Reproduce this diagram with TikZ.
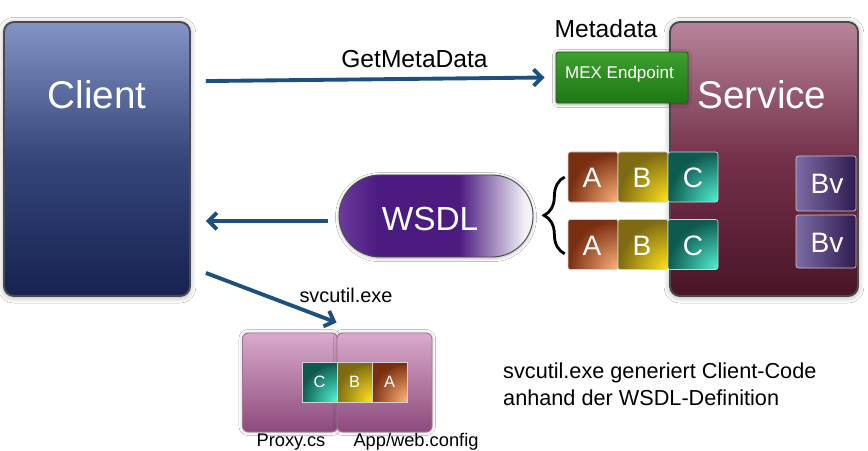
\documentclass[tikz,border=0pt]{standalone}
\usepackage{fontspec}
\setmainfont{Liberation Sans}
\usetikzlibrary{arrows.meta,shadows.blur,decorations.pathreplacing,calc}
\definecolor{arrowblue}{HTML}{1B5080}
\definecolor{clientT}{HTML}{8293C5}
\definecolor{clientM}{HTML}{34467A}
\definecolor{clientB}{HTML}{172250}
\definecolor{servT}{HTML}{B8849A}
\definecolor{servM}{HTML}{74304A}
\definecolor{servB}{HTML}{4A1528}
\definecolor{boxborder}{HTML}{4A4A4A}
\definecolor{mexT}{HTML}{3E9E2E}
\definecolor{mexB}{HTML}{1E7814}
\definecolor{mexborder}{HTML}{2C5A22}
\definecolor{wsdlA}{HTML}{6A3A9C}
\definecolor{wsdlB}{HTML}{4C1B80}
\definecolor{wsdlC}{HTML}{F4F2F8}
\definecolor{Abase}{HTML}{7A2E10}
\definecolor{Ahl}{HTML}{FFB27A}
\definecolor{Bbase}{HTML}{7E6A12}
\definecolor{Bhl}{HTML}{FFE41C}
\definecolor{Cbase}{HTML}{0D5A4E}
\definecolor{Chl}{HTML}{52F2D4}
\definecolor{bvL}{HTML}{7C6CA4}
\definecolor{bvR}{HTML}{2E1B50}
\definecolor{pinkT}{HTML}{DAAACC}
\definecolor{pinkB}{HTML}{8C4A7C}
\definecolor{pinkborder}{HTML}{A27492}
\pgfdeclarehorizontalshading{wsdlshade}{100bp}{color(0bp)=(wsdlA); color(25bp)=(wsdlA); color(35bp)=(wsdlB); color(56bp)=(wsdlB); color(73bp)=(wsdlC); color(100bp)=(wsdlC)}
\newcommand\myfs[1]{\fontsize{#1}{#1}\selectfont}
\begin{document}
\begin{tikzpicture}[x=0.03cm,y=-0.03cm,
  bigbox/.style={draw=boxborder, line width=1.6pt, rounded corners=0.3cm,
    blur shadow={shadow blur steps=6, shadow xshift=0pt, shadow yshift=-1pt, shadow opacity=35, shadow blur radius=5pt}},
  txt/.style={inner sep=0pt, anchor=base},
  wtxt/.style={txt, text=white},
  arr/.style={draw=arrowblue, line width=3.3pt, -{Straight Barb[length=7pt,width=14pt]}},
  abox/.style={draw=gray!35, line width=0.5pt, rounded corners=2pt, minimum width=1.5cm, minimum height=1.5cm,
    fill=#1base, path picture={\shade[inner color=#1hl, outer color=#1base] (path picture bounding box.south east) circle (1.5cm);}},
  sbox/.style={draw=gray!35, line width=0.4pt, minimum width=1.05cm, minimum height=1.2cm,
    fill=#1base, path picture={\shade[inner color=#1hl, outer color=#1base] (path picture bounding box.south east) circle (1.1cm);}},
  bvbox/.style={draw=gray!45, line width=0.6pt, rounded corners=2pt, minimum width=1.8cm, left color=bvL, right color=bvR},
  pinkbox/.style={draw=pinkborder, line width=0.8pt, rounded corners=5pt, minimum width=2.85cm, minimum height=2.97cm,
    top color=pinkT, bottom color=pinkB,
    blur shadow={shadow blur steps=5, shadow xshift=0pt, shadow yshift=0pt, shadow opacity=25, shadow blur radius=3pt}}
]
\useasboundingbox (0,0) rectangle (868,451);
\fill[white] (0,0) rectangle (868,451);

% Client and Service
\node[bigbox, minimum width=5.58cm, minimum height=8.22cm, top color=clientT, bottom color=clientB, middle color=clientM] (client) at (97,159) {};
\node[wtxt] (clientlbl) at (97,108) {\myfs{33}Client};
\node[bigbox, minimum width=5.64cm, minimum height=8.22cm, top color=servT, bottom color=servB, middle color=servM] (service) at (764,159) {};
\node[wtxt] (servicelbl) at (762,108) {\myfs{33}Service};

% MEX endpoint
\node[txt] (metalbl) at (606,38) {\myfs{21}Metadata};
\node[draw=mexborder, line width=0.8pt, rounded corners=2pt, minimum width=3.96cm, minimum height=1.53cm,
  top color=mexT, bottom color=mexB,
  blur shadow={shadow blur steps=5, shadow xshift=0pt, shadow yshift=-1pt, shadow opacity=35, shadow blur radius=3pt}] (mex) at (622,77.5) {};
\node[wtxt] (mexlbl) at (619.5,79) {\myfs{14.5}MEX Endpoint};

% A B C rows
\node[abox=A] (a1) at (593,177) {};
\node[abox=B] (b1) at (643,177) {};
\node[abox=C] (c1) at (693,177) {};
\node[abox=A] (a2) at (593,244.5) {};
\node[abox=B] (b2) at (643,244.5) {};
\node[abox=C] (c2) at (693,244.5) {};
\node[wtxt] (a1l) at (592,187) {\myfs{24}A};
\node[wtxt] (b1l) at (642,187) {\myfs{24}B};
\node[wtxt] (c1l) at (693,187) {\myfs{24}C};
\node[wtxt] (a2l) at (592,255) {\myfs{24}A};
\node[wtxt] (b2l) at (642,255) {\myfs{24}B};
\node[wtxt] (c2l) at (693,255) {\myfs{24}C};

% Bv boxes
\node[bvbox, minimum height=1.65cm] (bv1) at (826,183.5) {};
\node[bvbox, minimum height=1.59cm] (bv2) at (826,241.5) {};
\node[wtxt] (bv1l) at (827,193) {\myfs{24}Bv};
\node[wtxt] (bv2l) at (827,252) {\myfs{24}Bv};

% brace
\draw[line width=2.4pt, decorate, decoration={brace, amplitude=0.62cm}]
  ($(a2.south west)+(-3,-16)$) -- ($(a1.west)+(-3,0)$);

% WSDL
\node[draw=gray!60!black, line width=0.8pt, rounded corners=1.23cm, minimum width=5.82cm, minimum height=2.46cm,
  shading=wsdlshade,
  blur shadow={shadow blur steps=5, shadow xshift=0pt, shadow yshift=-1pt, shadow opacity=30, shadow blur radius=3pt}] (wsdl) at (436,216) {};
\node[wtxt] (wsdllbl) at (430,230) {\myfs{28.5}WSDL};

% arrows
\node[txt] (getlbl) at (414.5,68) {\myfs{21}GetMetaData};
\draw[arr] ($(client.north east)+(15,60)$) -- ($(mex.west)+(-11,0)$);
\coordinate (w1) at ($(wsdl.west)+(-11,5)$);
\draw[arr, shorten >=12.75pt] (w1) -- (w1 -| client.east);

% Proxy and config
\node[pinkbox] (proxy) at (290,382.5) {};
\node[pinkbox] (app) at (384.5,382.5) {};
\node[sbox=C] (sc) at (319.5,382) {};
\node[sbox=B] (sb) at (354.5,382) {};
\node[sbox=A] (sa) at (389.5,382) {};
\node[wtxt] (scl) at (319.5,387) {\myfs{14}C};
\node[wtxt] (sbl) at (354.5,387) {\myfs{14}B};
\node[wtxt] (sal) at (389.5,387) {\myfs{14}A};
\node[txt] (proxylbl) at (291,446) {\myfs{15.6}Proxy.cs};
\node[txt] (applbl) at (416,446) {\myfs{15.6}App/web.config};

\node[txt] (svclbl) at (346,302) {\myfs{17}svcutil.exe};
\draw[arr] ($(client.south east)+(15,-24)$) -- ($(app.north west)+(0,-10)$);

% description
\node[txt, anchor=base west] (desc1) at (503,378) {\myfs{18.5}svcutil.exe generiert Client-Code};
\node[txt, anchor=base west] (desc2) at (503,405) {\myfs{18.5}anhand der WSDL-Definition};
\end{tikzpicture}
\end{document}
